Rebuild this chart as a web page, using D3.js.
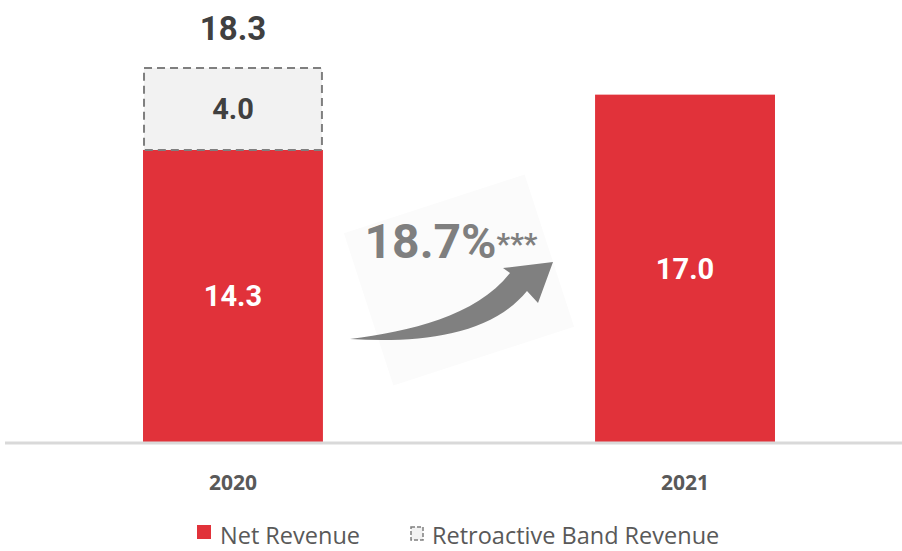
<!DOCTYPE html>
<html>
<head>
<meta charset="utf-8">
<script src="https://cdn.jsdelivr.net/npm/d3@7"></script>
<style>
  html, body { margin: 0; padding: 0; background: #fff; }
  svg { display: block; }
</style>
</head>
<body>
<svg id="chart" width="902" height="551"></svg>
<script>
// Revenue data
const years = ["2020", "2021"];
const netRevenue = [14.3, 17.0];
const retroactiveRevenue = [4.0, 0];
const totals = [18.3, null];
const growthLabel = "18.7%";
const growthMark = "***";
const legendLabels = ["Net Revenue", "Retroactive Band Revenue"];

const W = 902, H = 551;
const baseY = 443, topY = 68;
const red = "#e1323a";
const svg = d3.select("#chart");

const x = d3.scaleBand().domain(years).range([7.4, 910.6]).paddingInner(0.602).paddingOuter(0.3);
const y = d3.scaleLinear().domain([0, 18.3]).range([baseY, topY]);

// faint backdrop behind the growth arrow
const midX = (x("2020") + x.bandwidth() + x("2021")) / 2;
svg.append("rect")
  .attr("x", midX - 95).attr("y", 200).attr("width", 190).attr("height", 160)
  .attr("fill", "#fbfbfb")
  .attr("transform", `rotate(-18 ${midX} 280)`);

// net revenue bars
svg.selectAll("rect.net").data(years).join("rect")
  .attr("class", "net")
  .attr("x", d => x(d))
  .attr("width", x.bandwidth())
  .attr("y", (d, i) => y(netRevenue[i]))
  .attr("height", (d, i) => baseY - y(netRevenue[i]))
  .attr("fill", red);

// retroactive band revenue (dashed)
svg.selectAll("rect.retro").data(years.filter((d, i) => retroactiveRevenue[i] > 0)).join("rect")
  .attr("class", "retro")
  .attr("x", d => x(d) + 1)
  .attr("width", x.bandwidth() - 2)
  .attr("y", d => { const i = years.indexOf(d); return y(netRevenue[i] + retroactiveRevenue[i]); })
  .attr("height", d => { const i = years.indexOf(d); return y(netRevenue[i]) - y(netRevenue[i] + retroactiveRevenue[i]); })
  .attr("fill", "#f2f2f2")
  .attr("stroke", "#7f7f7f")
  .attr("stroke-width", 2)
  .attr("stroke-dasharray", "8,5");

// axis baseline
const xAxis = d3.axisBottom(x).tickSize(0).tickPadding(32);
const ax = svg.append("g").attr("transform", `translate(0,${baseY})`).call(xAxis);
ax.select(".domain").attr("stroke", "#d9d9d9").attr("stroke-width", 3)
  .attr("d", `M5,0H${W}`);
ax.selectAll("text")
  .attr("font-family", "'Liberation Sans Narrow', 'Open Sans', sans-serif")
  .attr("font-weight", "bold").attr("font-size", 21).attr("fill", "#595959");

const font = "Roboto, 'Open Sans', sans-serif";

// net revenue labels
svg.selectAll("text.netlbl").data(years).join("text")
  .attr("class", "netlbl")
  .attr("x", d => x(d) + x.bandwidth() / 2)
  .attr("y", (d, i) => (y(netRevenue[i]) + baseY) / 2 + 10)
  .attr("text-anchor", "middle")
  .attr("font-family", font).attr("font-weight", "bold").attr("font-size", 29)
  .attr("fill", "#fff")
  .text((d, i) => netRevenue[i].toFixed(1));

// retroactive label and stack total
years.forEach((d, i) => {
  if (retroactiveRevenue[i] > 0) {
    svg.append("text")
      .attr("x", x(d) + x.bandwidth() / 2)
      .attr("y", (y(netRevenue[i]) + y(netRevenue[i] + retroactiveRevenue[i])) / 2 + 10)
      .attr("text-anchor", "middle")
      .attr("font-family", font).attr("font-weight", "bold").attr("font-size", 29)
      .attr("fill", "#404040")
      .text(retroactiveRevenue[i].toFixed(1));
  }
  if (totals[i] != null) {
    svg.append("text")
      .attr("x", x(d) + x.bandwidth() / 2)
      .attr("y", y(totals[i]) - 28)
      .attr("text-anchor", "middle")
      .attr("font-family", font).attr("font-weight", "bold").attr("font-size", 33)
      .attr("fill", "#404040")
      .text(totals[i].toFixed(1));
  }
});

// growth arrow (tapered curve with head)
const ox = midX - 109, oy = 339; // tail
const tip = [midX + 94, 262];
const arrowPath = [
  `M${ox},${oy}`,
  `C${ox + 60},${oy - 8} ${ox + 125},${oy - 22} ${ox + 160},${oy - 66}`,
  `L${ox + 153},${oy - 71}`,
  `L${tip[0]},${tip[1]}`,
  `L${ox + 188},${oy - 36}`,
  `L${ox + 177},${oy - 48}`,
  `C${ox + 140},${oy - 3} ${ox + 70},${oy + 4} ${ox},${oy}`,
  "Z"
].join(" ");
svg.append("path").attr("d", arrowPath).attr("fill", "#808080");

// growth label
const g = svg.append("text")
  .attr("x", midX - 8).attr("y", 258)
  .attr("text-anchor", "middle")
  .attr("font-family", font).attr("font-weight", "bold").attr("fill", "#7f7f7f");
g.append("tspan").attr("font-size", 48).text(growthLabel);
g.append("tspan").attr("font-size", 30).attr("dy", -4).text(growthMark);

// legend
const ly = 538;
svg.append("rect").attr("x", 197).attr("y", ly - 13).attr("width", 14).attr("height", 14).attr("fill", red);
svg.append("text").attr("x", 220).attr("y", ly + 6)
  .attr("font-family", "'Open Sans', sans-serif").attr("font-size", 23.5).attr("fill", "#595959")
  .text(legendLabels[0]);
svg.append("rect").attr("x", 411).attr("y", ly - 11).attr("width", 12).attr("height", 13)
  .attr("fill", "#f2f2f2").attr("stroke", "#7f7f7f").attr("stroke-width", 1.5).attr("stroke-dasharray", "4,2");
svg.append("text").attr("x", 432).attr("y", ly + 6)
  .attr("font-family", "'Open Sans', sans-serif").attr("font-size", 23.5).attr("fill", "#595959")
  .text(legendLabels[1]);
</script>
</body>
</html>
